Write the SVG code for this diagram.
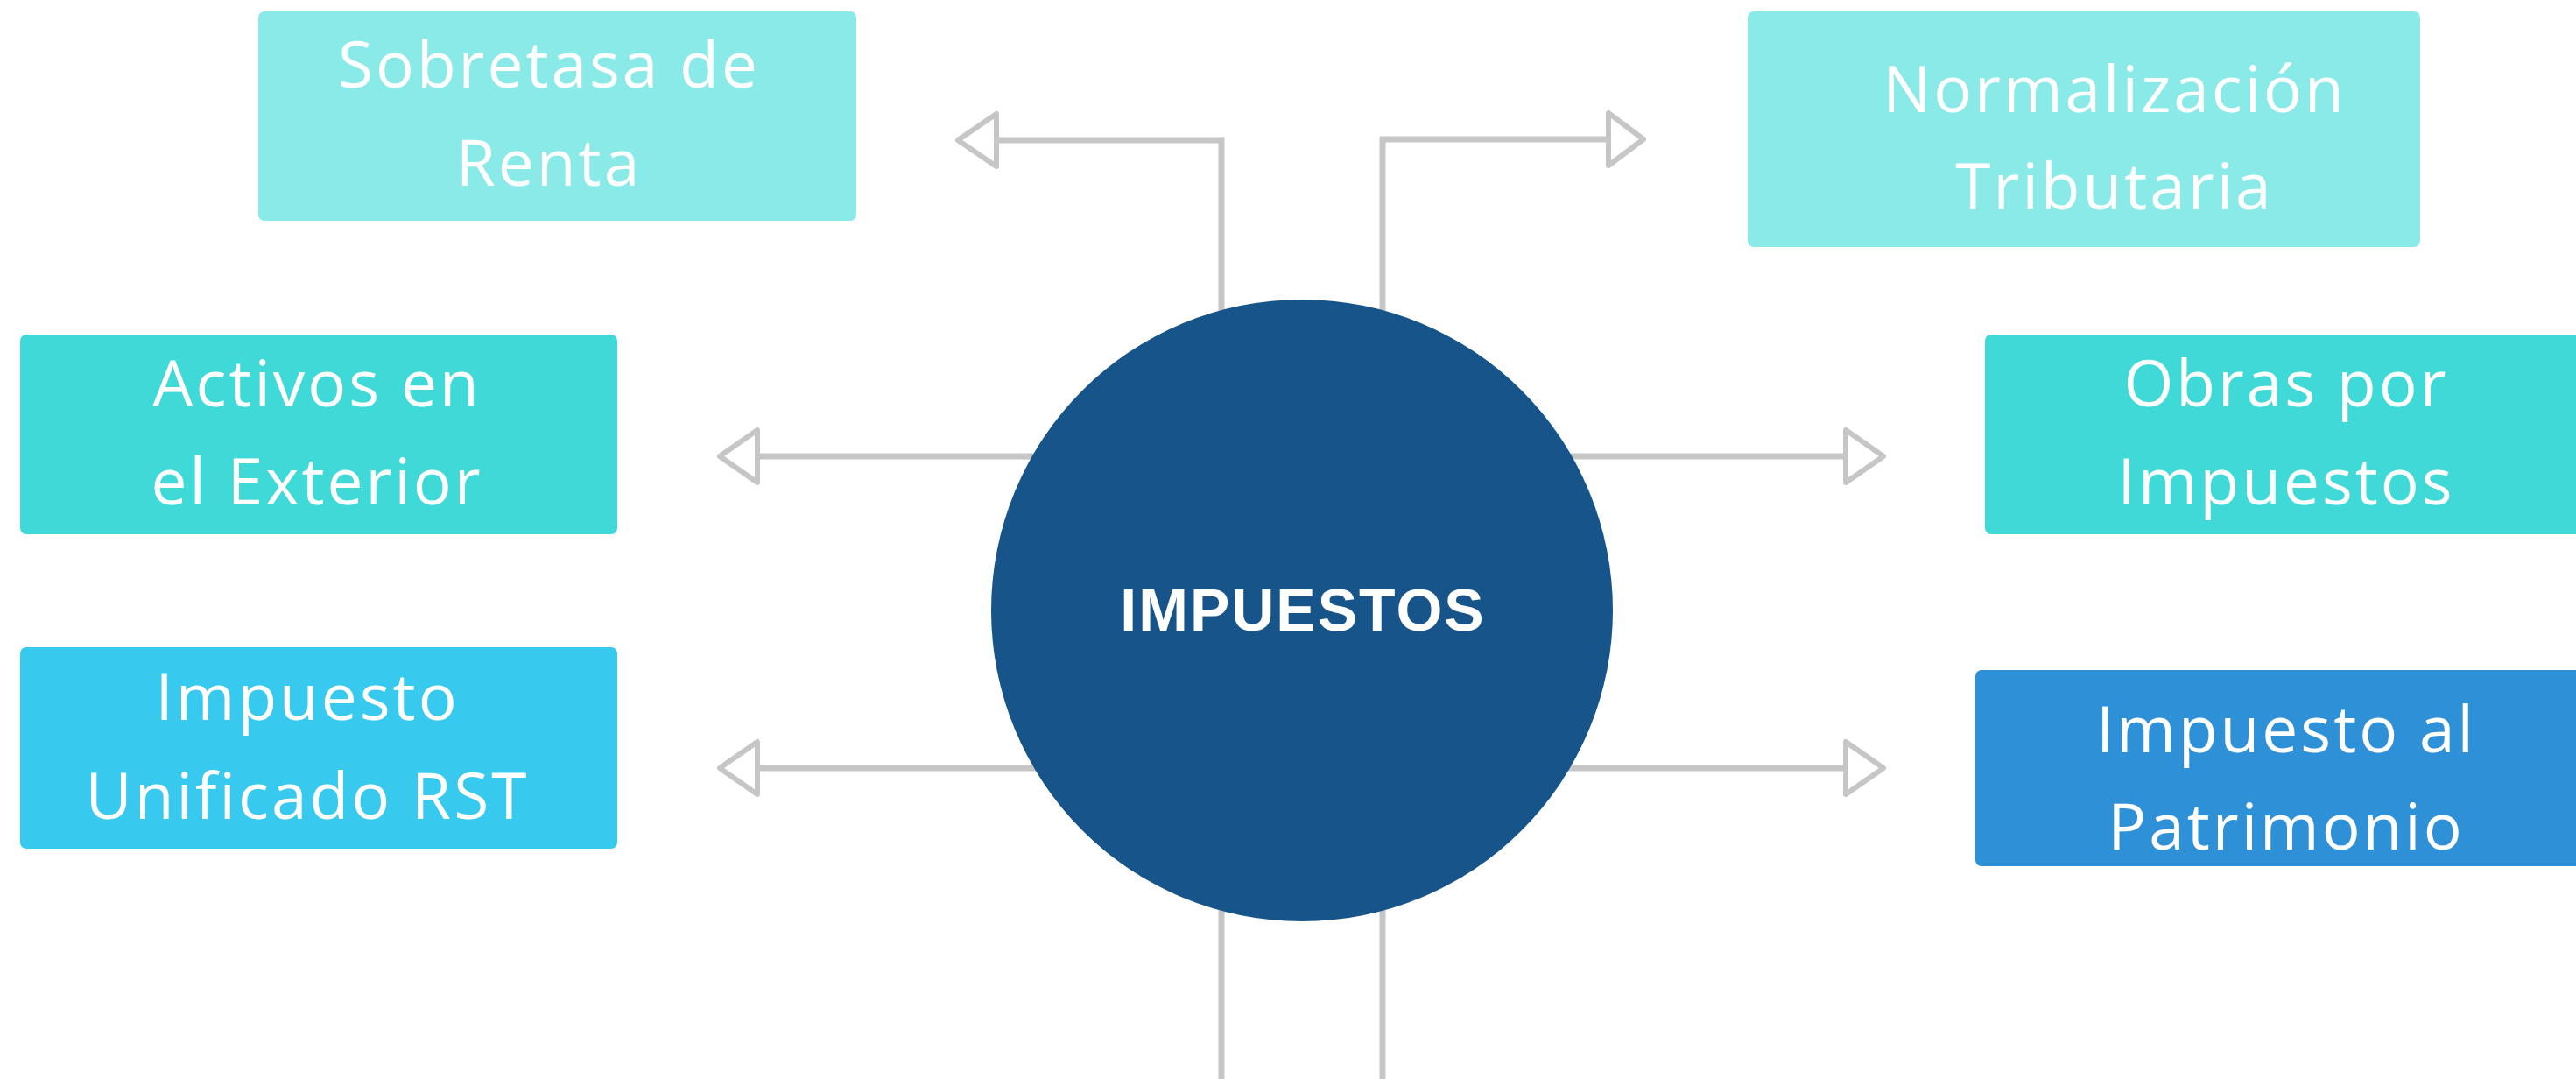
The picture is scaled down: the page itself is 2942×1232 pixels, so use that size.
<svg xmlns="http://www.w3.org/2000/svg" width="2942" height="1232" viewBox="0 0 2942 1232">
<style>
.lbl{font-family:"Open Sans","Liberation Sans",sans-serif;font-size:73px;fill:#ffffff;text-anchor:middle;letter-spacing:3px}
.ln{stroke:#c6c6c6;stroke-width:7;fill:none}
.ah{stroke:#c6c6c6;stroke-width:6;fill:#ffffff;stroke-linejoin:round}
.c1{fill:#8aeae8}.c2{fill:#3fdad8}.c3{fill:#38c9ef}.c4{fill:#2e90d6}
</style>
<rect width="2942" height="1232" fill="#ffffff"/>
<g id="connectors">
<path class="ln" d="M1395 1232 V160 H1138"/>
<path class="ln" d="M1579 1232 V159 H1837"/>
<path class="ln" d="M865 521 H1400"/>
<path class="ln" d="M865 877 H1400"/>
<path class="ln" d="M1580 521 H2108"/>
<path class="ln" d="M1580 877 H2108"/>
<polygon class="ah" points="1094,160 1138,130 1138,190"/>
<polygon class="ah" points="1877,159 1837,129 1837,189"/>
<polygon class="ah" points="822,521 865,491 865,551"/>
<polygon class="ah" points="822,877 865,847 865,907"/>
<polygon class="ah" points="2151,521 2108,491 2108,551"/>
<polygon class="ah" points="2151,877 2108,847 2108,907"/>
</g>
<g id="center">
<circle cx="1487" cy="697" r="355" fill="#16548a"/>
<text x="1488" y="720" font-family="'Liberation Sans',Arial,sans-serif" font-size="68" font-weight="bold" fill="#ffffff" text-anchor="middle" letter-spacing="2">IMPUESTOS</text>
</g>
<g id="sobretasa">
<rect class="c1" x="295" y="13" width="683" height="239" rx="7"/>
<text class="lbl" x="627" y="100">Sobretasa de</text>
<text class="lbl" x="627" y="212">Renta</text>
</g>
<g id="normalizacion">
<rect class="c1" x="1996" y="13" width="768" height="269" rx="7"/>
<text class="lbl" x="2415" y="128">Normalización</text>
<text class="lbl" x="2415" y="239">Tributaria</text>
</g>
<g id="activos">
<rect class="c2" x="23" y="382" width="682" height="228" rx="7"/>
<text class="lbl" x="362" y="464">Activos en</text>
<text class="lbl" x="362" y="576">el Exterior</text>
</g>
<g id="unificado">
<rect class="c3" x="23" y="739" width="682" height="230" rx="7"/>
<text class="lbl" x="351" y="822">Impuesto</text>
<text class="lbl" x="351" y="935">Unificado RST</text>
</g>
<g id="obras">
<rect class="c2" x="2267" y="382" width="700" height="228" rx="7"/>
<text class="lbl" x="2611" y="464">Obras por</text>
<text class="lbl" x="2611" y="576">Impuestos</text>
</g>
<g id="patrimonio">
<rect class="c4" x="2256" y="765" width="711" height="224" rx="7"/>
<text class="lbl" x="2611" y="859">Impuesto al</text>
<text class="lbl" x="2611" y="970">Patrimonio</text>
</g>
</svg>
